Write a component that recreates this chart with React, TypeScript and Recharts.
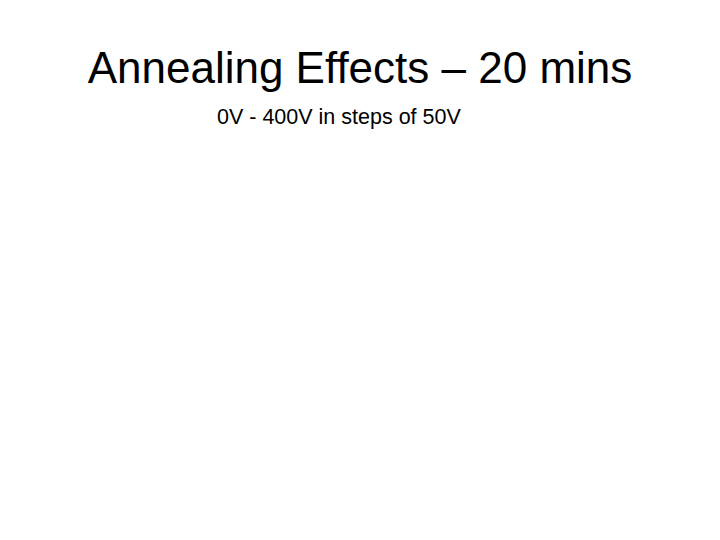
import React from 'react';
import { LineChart, XAxis, YAxis } from 'recharts';

// The slide shows only its title and subtitle; the chart area is empty.
const titleText = 'Annealing Effects – 20 mins';
const subtitleText = '0V - 400V in steps of 50V';
const points: { v: number; c: number }[] = [];

const font = '"Liberation Sans", Arial, sans-serif';

export default function App() {
  return (
    <div style={{ position: 'absolute', left: 0, top: 0, width: 720, height: 540, background: '#fff' }}>
      <LineChart width={720} height={540} data={points} margin={{ top: 140, right: 40, left: 40, bottom: 40 }}>
        <XAxis dataKey="v" hide />
        <YAxis hide />
      </LineChart>
      <svg width={720} height={540} style={{ position: 'absolute', left: 0, top: 0 }}>
        <text x={360} y={83} textAnchor="middle" fontFamily={font} fontSize={44} fill="#000">
          {titleText}
        </text>
        <text x={217} y={124} textAnchor="start" fontFamily={font} fontSize={21.5} fill="#000">
          {subtitleText}
        </text>
      </svg>
    </div>
  );
}
